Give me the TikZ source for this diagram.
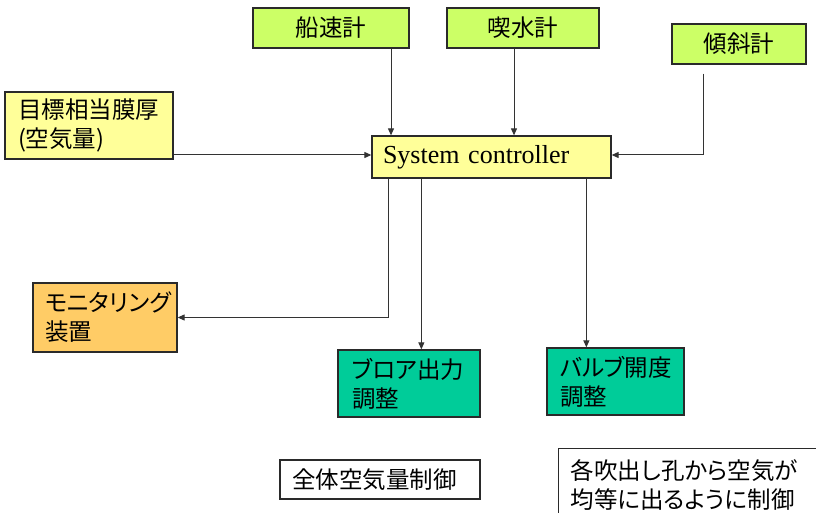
\documentclass[tikz,border=0pt]{standalone}
\usepackage{fontspec}
\setmainfont{Liberation Serif}
\newfontfamily\jp[RawFeature=+palt]{Noto Sans CJK JP}
\usetikzlibrary{arrows.meta,calc}
\definecolor{ygreen}{HTML}{CCFF66}
\definecolor{lyellow}{HTML}{FFFF99}
\definecolor{orangebox}{HTML}{FFCC66}
\definecolor{teal}{HTML}{00CC99}
\definecolor{edge}{HTML}{2A2A2A}
\definecolor{conn}{HTML}{333333}
\tikzset{
  box/.style={draw=edge, line width=1.3pt, inner sep=0pt, font=\jp\fontsize{23.5}{29}\selectfont},
  sensor/.style={box, fill=ygreen, align=center},
  multibox/.style={box, align=left},
  arr/.style={draw=conn, line width=1pt, -{Triangle[length=7pt,width=6pt]}},
}
\begin{document}
\begin{tikzpicture}[x=1pt,y=-1pt]
\useasboundingbox (0,0) rectangle (816,513);
\fill[white] (0,0) rectangle (816,513);
% sensors
\node[sensor, minimum width=156pt, minimum height=40pt] (ship) at (331,28) {船速計};
\node[sensor, minimum width=152pt, minimum height=40pt] (draft) at (523,28) {喫水計};
\node[sensor, minimum width=134pt, minimum height=40pt] (tilt) at (739,44) {傾斜計};
% target
\node[multibox, fill=lyellow, minimum width=168pt, minimum height=67pt, text width=142pt] (target) at (89,125.5) {目標相当膜厚\\(空気量)};
% system controller
\node[box, fill=lyellow, minimum width=239pt, minimum height=42pt, text width=217pt, align=left, font=\fontsize{26}{30}\selectfont] (sc) at (491.5,157) {System controller};
% outputs
\node[multibox, fill=orangebox, minimum width=144pt, minimum height=69pt, text width=120pt] (mon) at (105,317.5) {モニタリング\\装置};
\node[multibox, fill=teal, minimum width=142pt, minimum height=67pt, text width=114pt] (blower) at (409,383.5) {ブロア出力\\調整};
\node[multibox, fill=teal, minimum width=137pt, minimum height=67pt, text width=111pt] (valve) at (615.5,381.5) {バルブ開度\\調整};
% captions
\node[multibox, fill=white, minimum width=200pt, minimum height=39pt, text width=176pt] (whole) at (380,479.5) {全体空気量制御};
\node[multibox, fill=white, minimum width=262pt, minimum height=72pt, text width=238pt, anchor=north west] (each) at (558,448) {各吹出し孔から空気が\\均等に出るように制御};
% connectors
\draw[arr] ([xshift=60pt]ship.south) -- ([xshift=60pt]ship.south |- sc.north);
\draw[arr] ([xshift=-9pt]draft.south) -- ([xshift=-9pt]draft.south |- sc.north);
\draw[arr] ([xshift=-36pt,yshift=-9pt]tilt.south) |- ([yshift=2pt]sc.east);
\draw[arr] (target.east |- 0,155) -- (sc.west |- 0,155);
\draw[arr] ([xshift=17pt]sc.south west) |- (mon.east);
\draw[arr] ([xshift=50pt]sc.south west) -- ([xshift=50pt]sc.south west |- blower.north);
\draw[arr] ([xshift=215pt]sc.south west) -- ([xshift=215pt]sc.south west |- valve.north);
\end{tikzpicture}
\end{document}
